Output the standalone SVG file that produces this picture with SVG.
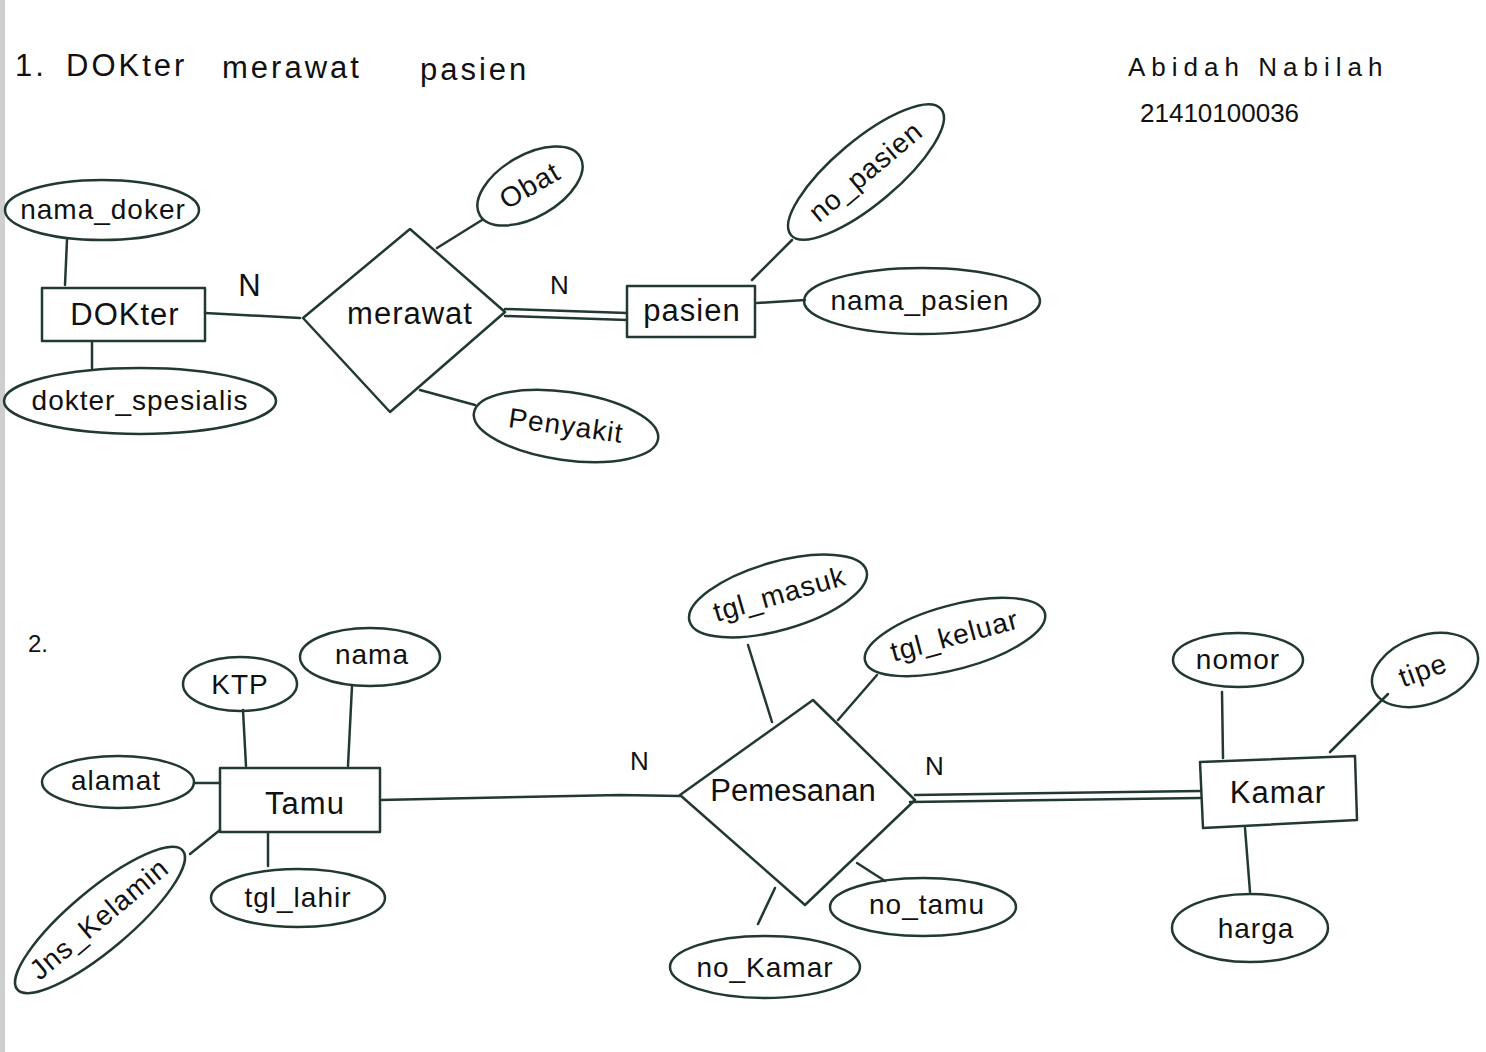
<svg xmlns="http://www.w3.org/2000/svg" width="1486" height="1052" viewBox="0 0 1486 1052">
<style>
.s{fill:none;stroke:#22392f;stroke-width:2.5;stroke-linecap:round;stroke-linejoin:round}
.t{font-family:"Liberation Sans",Arial,sans-serif;fill:#111;text-anchor:middle;letter-spacing:1px}
.h{font-family:"Liberation Sans",Arial,sans-serif;fill:#111;font-size:31px;letter-spacing:3px}
.a{font-size:28px}
.n{font-size:31px}
.c{font-size:26px}
</style>
<rect width="1486" height="1052" fill="#fff"/>
<rect x="0" y="0" width="5" height="1052" fill="#cfcfcf"/>
<text class="h" x="15" y="76">1.</text>
<text class="h" x="66" y="76">DOKter</text>
<text class="h" x="222" y="78">merawat</text>
<text class="h" x="420" y="80">pasien</text>
<text x="1128" y="76" font-family="Liberation Sans,Arial,sans-serif" font-size="26" fill="#111" letter-spacing="6">Abidah Nabilah</text>
<text x="1140" y="122" font-family="Liberation Sans,Arial,sans-serif" font-size="26" fill="#111">21410100036</text>
<text x="28" y="652" font-family="Liberation Sans,Arial,sans-serif" font-size="24" fill="#111">2.</text>

<g id="connectors">
<path class="s" d="M67 240 L65 285"/>
<path class="s" d="M92 342 L92 368"/>
<path class="s" d="M205 313 L300 318"/>
<path class="s" d="M437 248 L482 220"/>
<path class="s" d="M420 390 L475 405"/>
<path class="s" d="M505 309 L627 313"/>
<path class="s" d="M505 316 L627 320"/>
<path class="s" d="M752 280 L792 240"/>
<path class="s" d="M757 303 L805 300"/>
<path class="s" d="M243 710 L246 766"/>
<path class="s" d="M352 686 L348 766"/>
<path class="s" d="M194 783 L220 783"/>
<path class="s" d="M268 833 L268 866"/>
<path class="s" d="M220 830 L190 854"/>
<path class="s" d="M380 800 L620 795 L680 796"/>
<path class="s" d="M748 645 L772 722"/>
<path class="s" d="M877 675 L838 720"/>
<path class="s" d="M857 863 L885 881"/>
<path class="s" d="M775 888 L758 924"/>
<path class="s" d="M915 795 L1200 791"/>
<path class="s" d="M910 802 L1200 798"/>
<path class="s" d="M1222 692 L1223 758"/>
<path class="s" d="M1388 694 L1330 752"/>
<path class="s" d="M1245 828 L1250 892"/>
<text class="t n" x="250" y="296">N</text>
<text class="t c" x="560" y="294">N</text>
<text class="t c" x="640" y="770">N</text>
<text class="t c" x="935" y="775">N</text>
</g>

<g id="dokter"><rect class="s" x="42" y="288" width="163" height="53"/><text class="t n" x="125" y="325">DOKter</text></g>
<g id="nama_doker"><ellipse class="s" cx="102" cy="210" rx="97" ry="30"/><text class="t a" x="103" y="219">nama_doker</text></g>
<g id="dokter_spesialis"><ellipse class="s" cx="140" cy="401" rx="136" ry="33"/><text class="t a" x="140" y="410">dokter_spesialis</text></g>
<g id="merawat"><path class="s" d="M303 318 L410 229 L505 312 L390 412 Z"/><text class="t n" x="410" y="324">merawat</text></g>
<g id="obat" transform="translate(530 186) rotate(-30)"><ellipse class="s" cx="0" cy="0" rx="58" ry="31"/><text class="t a" x="0" y="9">Obat</text></g>
<g id="penyakit" transform="translate(566 426) rotate(8)"><ellipse class="s" cx="0" cy="0" rx="93" ry="34"/><text class="t a" x="0" y="9">Penyakit</text></g>
<g id="pasien"><rect class="s" x="627" y="286" width="128" height="51"/><text class="t n" x="692" y="321">pasien</text></g>
<g id="no_pasien" transform="translate(866 172) rotate(-40)"><ellipse class="s" cx="0" cy="0" rx="98" ry="32"/><text class="t a" x="0" y="9">no_pasien</text></g>
<g id="nama_pasien"><ellipse class="s" cx="922" cy="301" rx="118" ry="33"/><text class="t a" x="920" y="310">nama_pasien</text></g>

<g id="tamu"><rect class="s" x="220" y="768" width="160" height="64"/><text class="t n" x="305" y="814">Tamu</text></g>
<g id="ktp"><ellipse class="s" cx="240" cy="684" rx="57" ry="27"/><text class="t a" x="240" y="694">KTP</text></g>
<g id="nama"><ellipse class="s" cx="370" cy="657" rx="70" ry="29"/><text class="t a" x="372" y="664">nama</text></g>
<g id="alamat"><ellipse class="s" cx="118" cy="782" rx="76" ry="26"/><text class="t a" x="116" y="790">alamat</text></g>
<g id="tgl_lahir"><ellipse class="s" cx="298" cy="898" rx="87" ry="29"/><text class="t a" x="298" y="907">tgl_lahir</text></g>
<g id="jns_kelamin" transform="translate(100 920) rotate(-40)"><ellipse class="s" cx="0" cy="0" rx="108" ry="30"/><text class="t a" x="0" y="8">Jns_Kelamin</text></g>
<g id="pemesanan"><path class="s" d="M680 795 L813 700 L915 800 L805 905 Z"/><text class="t n" x="793" y="801" style="letter-spacing:0">Pemesanan</text></g>
<g id="tgl_masuk" transform="translate(778 596) rotate(-16)"><ellipse class="s" cx="0" cy="0" rx="92" ry="34"/><text class="t a" x="2" y="8">tgl_masuk</text></g>
<g id="tgl_keluar" transform="translate(955 637) rotate(-15)"><ellipse class="s" cx="0" cy="0" rx="93" ry="32"/><text class="t a" x="0" y="8">tgl_keluar</text></g>
<g id="no_tamu"><ellipse class="s" cx="923" cy="907" rx="93" ry="29"/><text class="t a" x="927" y="914">no_tamu</text></g>
<g id="no_kamar"><ellipse class="s" cx="765" cy="967" rx="95" ry="31"/><text class="t a" x="765" y="977">no_Kamar</text></g>
<g id="kamar"><path class="s" d="M1200 762 L1355 756 L1357 820 L1203 828 Z"/><text class="t n" x="1278" y="803">Kamar</text></g>
<g id="nomor"><ellipse class="s" cx="1238" cy="660" rx="65" ry="27"/><text class="t a" x="1238" y="669">nomor</text></g>
<g id="tipe" transform="translate(1425 670) rotate(-20)"><ellipse class="s" cx="0" cy="0" rx="55" ry="34"/><text class="t a" x="-2" y="9">tipe</text></g>
<g id="harga"><ellipse class="s" cx="1250" cy="928" rx="78" ry="34"/><text class="t a" x="1256" y="938">harga</text></g>
</svg>
